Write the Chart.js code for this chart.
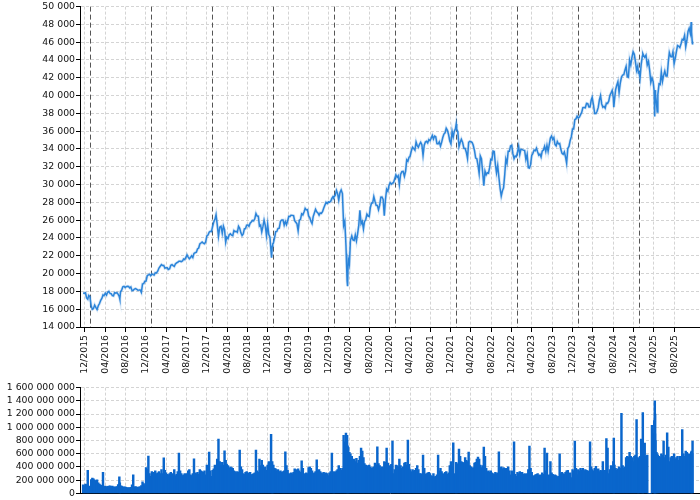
<!DOCTYPE html>
<html>
<head>
<meta charset="utf-8">
<script src="https://cdn.jsdelivr.net/npm/chart.js@4.4.1/dist/chart.umd.min.js"></script>
<style>
  html, body { margin: 0; padding: 0; background: #fff; }
  canvas { display: block; }
</style>
</head>
<body>
<canvas id="price" width="700" height="381"></canvas>
<canvas id="volume" width="700" height="119"></canvas>
<script>
// weekly closes: [month, day, close, volume (millions)]
const d2015 = [[11,20,17823,130],[11,27,17798,120],[12,4,17848,140],[12,11,17265,135],[12,18,17128,350],[12,24,17552,100],[12,31,17425,110]];

const d2016 = [[1,8,16346,210],[1,15,15988,230],[1,22,16093,220],[1,29,16466,200],[2,5,16205,190],[2,12,15973,205],[2,19,16392,160],[2,26,16640,140],
  [3,4,17006,125],[3,11,17213,120],[3,18,17602,318],[3,24,17515,105],[4,1,17792,110],[4,8,17577,100],[4,15,17897,108],[4,22,18003,112],[4,29,17773,115],
  [5,6,17740,105],[5,13,17535,110],[5,20,17500,98],[5,27,17873,95],[6,3,17807,100],[6,10,17865,102],[6,17,17675,135],[6,24,17400,250],[6,27,17140,160],
  [7,1,17949,115],[7,8,18147,110],[7,15,18516,100],[7,22,18570,95],[7,29,18432,98],[8,5,18543,90],[8,12,18576,85],[8,19,18552,88],[8,26,18395,85],
  [9,2,18492,90],[9,9,18085,130],[9,16,18124,280],[9,23,18261,100],[9,30,18308,105],[10,7,18240,95],[10,14,18138,92],[10,21,18145,98],[10,28,18161,100],
  [11,4,17888,120],[11,11,18847,175],[11,18,18868,150],[11,25,19152,120],[12,2,19170,390],[12,9,19757,360],[12,16,19843,565],[12,23,19934,300],[12,30,19763,260]];

const d2017 = [[1,6,19964,330],[1,13,19885,310],[1,20,19827,320],[1,27,20093,340],[2,3,20071,300],[2,10,20269,310],[2,17,20624,330],[2,24,20822,300],
  [3,3,21005,360],[3,10,20903,300],[3,17,20915,537],[3,24,20597,350],[3,31,20663,310],[4,7,20656,290],[4,13,20453,280],[4,21,20548,300],[4,28,20941,320],
  [5,5,21007,300],[5,12,20897,280],[5,19,20804,360],[5,26,21080,270],[6,2,21206,290],[6,9,21272,330],[6,16,21384,610],[6,23,21395,340],[6,30,21350,300],
  [7,7,21414,270],[7,14,21638,280],[7,21,21580,300],[7,28,21830,290],[8,4,22092,300],[8,11,21858,340],[8,18,21675,360],[8,25,21814,280],
  [9,1,21988,270],[9,8,21798,300],[9,15,22268,522],[9,22,22350,310],[9,29,22405,300],[10,6,22773,320],[10,13,22871,290],[10,20,23329,360],[10,27,23434,340],
  [11,3,23539,330],[11,10,23422,320],[11,17,23358,340],[11,24,23558,280],[12,1,24231,430],[12,8,24329,380],[12,15,24651,626],[12,22,24754,340],[12,29,24719,260]];

const d2018 = [[1,5,25296,350],[1,12,25803,370],[1,19,26072,430],[1,26,26617,400],[2,2,25521,520],[2,9,24190,820],[2,16,25219,480],[2,23,25310,420],
  [3,2,24538,470],[3,9,25336,430],[3,16,24946,645],[3,23,23533,500],[3,29,24103,440],[4,6,23933,420],[4,13,24360,380],[4,20,24463,400],[4,27,24311,390],
  [5,4,24263,380],[5,11,24831,340],[5,18,24715,330],[5,25,24753,310],[6,1,24635,330],[6,8,25317,320],[6,15,25090,656],[6,22,24581,400],[6,29,24271,360],
  [7,6,24456,300],[7,13,25019,290],[7,20,25058,320],[7,27,25451,330],[8,3,25463,310],[8,10,25313,300],[8,17,25669,320],[8,24,25790,280],[8,31,25965,290],
  [9,7,25917,300],[9,14,26154,310],[9,21,26743,656],[9,28,26458,340],[10,5,26447,320],[10,12,25340,520],[10,19,25444,420],[10,26,24688,500],
  [11,2,25270,430],[11,9,25989,380],[11,16,25413,400],[11,23,24285,350],[11,30,25538,430],[12,7,24389,480],[12,14,24100,450],[12,21,22445,895],
  [12,24,21792,300],[12,28,23062,480],[12,31,23327,380]];

const d2019 = [[1,4,23433,430],[1,11,23996,380],[1,18,24706,370],[1,25,24737,340],[2,1,25064,360],[2,8,25106,330],[2,15,25883,340],[2,22,26031,320],
  [3,1,26026,330],[3,8,25450,340],[3,15,25849,627],[3,22,25502,420],[3,29,25929,350],[4,5,26425,300],[4,12,26412,290],[4,18,26559,310],[4,26,26543,300],
  [5,3,26505,320],[5,10,25942,370],[5,17,25764,360],[5,24,25586,330],[5,31,24815,370],[6,7,25983,340],[6,14,26090,320],[6,21,26719,492],[6,28,26600,380],
  [7,5,26922,260],[7,12,27332,300],[7,19,27154,310],[7,26,27192,300],[8,2,26485,390],[8,9,26287,400],[8,16,25886,380],[8,23,25628,340],[8,30,26403,300],
  [9,6,26797,310],[9,13,27220,330],[9,20,26935,507],[9,27,26820,340],[10,4,26573,360],[10,11,26817,330],[10,18,26770,310],[10,25,26958,300],
  [11,1,27347,320],[11,8,27681,300],[11,15,28005,310],[11,22,27876,300],[11,29,28051,270],[12,6,28015,310],[12,13,28135,330],[12,20,28455,611],
  [12,27,28645,300],[12,31,28538,290]];

const d2020 = [[1,3,28635,330],[1,10,28824,320],[1,17,29348,340],[1,24,28990,360],[1,31,28256,420],[2,7,29103,380],[2,14,29398,350],[2,21,28992,380],
  [2,28,25409,880],[3,6,25864,780],[3,13,23186,914],[3,20,19174,880],[3,23,18592,720],[3,27,21637,700],[4,3,21053,620],[4,9,23719,600],[4,17,24242,560],
  [4,24,23775,500],[5,1,23724,520],[5,8,24331,480],[5,15,23685,530],[5,22,24465,460],[5,29,25383,500],[6,5,27111,560],[6,12,25606,685],[6,19,25871,640],
  [6,26,25016,540],[7,2,25827,450],[7,10,26075,430],[7,17,26672,420],[7,24,26470,410],[7,31,26428,430],[8,7,27433,400],[8,14,27931,380],[8,21,27930,390],
  [8,28,28654,400],[9,4,28133,460],[9,11,27666,430],[9,18,27657,705],[9,25,27174,450],[10,2,27683,420],[10,9,28587,380],[10,16,28606,400],[10,23,28336,390],
  [10,30,26502,480],[11,6,28323,470],[11,13,29480,685],[11,20,29263,460],[11,27,29910,380],[12,4,30218,420],[12,11,30046,440],[12,18,30179,790],
  [12,24,30200,300],[12,31,30606,360]];

const d2021 = [[1,8,31098,430],[1,15,30814,420],[1,22,30997,400],[1,29,29983,520],[2,5,31148,420],[2,12,31458,380],[2,19,31494,400],[2,26,30932,460],
  [3,5,31496,470],[3,12,32779,430],[3,19,32628,805],[3,26,33073,440],[4,1,33153,360],[4,9,33801,330],[4,16,34200,360],[4,23,34043,340],[4,30,33875,350],
  [5,7,34778,380],[5,14,34382,420],[5,21,34208,360],[5,28,34529,300],[6,4,34756,300],[6,11,34480,290],[6,18,33290,580],[6,25,34433,380],
  [7,2,34786,290],[7,9,34870,300],[7,16,34687,310],[7,23,35062,320],[7,30,34935,300],[8,6,35208,270],[8,13,35515,260],[8,20,35120,300],[8,27,35456,250],
  [9,3,35369,260],[9,10,34607,280],[9,17,34584,580],[9,24,34798,340],[10,1,34326,380],[10,8,34746,330],[10,15,35295,300],[10,22,35677,290],[10,29,35820,320],
  [11,5,36328,330],[11,12,36100,290],[11,19,35602,310],[11,26,34899,420],[12,3,34580,480],[12,10,35971,400],[12,17,35365,765],[12,23,35950,300],[12,31,36338,280]];

const d2022 = [[1,4,36800,470],[1,7,36231,450],[1,14,35912,440],[1,21,34265,670],[1,28,34725,560],[2,4,35089,480],[2,11,34738,470],[2,18,34079,460],
  [2,25,34059,540],[3,4,33615,500],[3,11,32945,480],[3,18,34754,625],[3,25,34861,420],[4,1,34818,400],[4,8,34721,380],[4,14,34451,390],[4,22,33811,460],
  [4,29,32977,470],[5,6,32899,520],[5,13,32197,550],[5,20,31262,520],[5,27,33213,430],[6,3,32900,390],[6,10,31393,420],[6,17,29888,700],[6,24,31500,560],
  [7,1,31097,380],[7,8,31338,330],[7,15,31288,340],[7,22,31899,320],[7,29,32845,340],[8,5,32803,310],[8,12,33761,300],[8,19,33706,290],[8,26,32283,320],
  [9,2,31318,300],[9,9,32151,310],[9,16,30822,630],[9,23,29590,380],[9,30,28725,400],[10,7,29297,370],[10,14,29634,390],[10,21,31083,380],[10,28,32861,370],
  [11,4,32403,380],[11,11,33748,400],[11,18,33746,340],[11,25,34347,280],[12,2,34430,340],[12,9,33476,320],[12,16,32920,780],[12,23,33204,290],[12,30,33147,260]];

const d2023 = [[1,6,33631,320],[1,13,34303,300],[1,20,33376,330],[1,27,33978,300],[2,3,33926,320],[2,10,33869,290],[2,17,33827,300],[2,24,32817,290],
  [3,3,33391,300],[3,10,31910,360],[3,17,31862,715],[3,24,32238,380],[3,31,33274,320],[4,6,33485,270],[4,14,33887,260],[4,21,33809,280],[4,28,34098,290],
  [5,5,33674,300],[5,12,33301,270],[5,19,33427,280],[5,26,33093,270],[6,2,33763,310],[6,9,33877,290],[6,16,34300,685],[6,23,33727,340],[6,30,34408,610],
  [7,7,33735,270],[7,14,34509,280],[7,21,35228,480],[7,28,35459,310],[8,4,35066,290],[8,11,35281,270],[8,18,34501,280],[8,25,34347,270],
  [9,1,34838,250],[9,8,34577,260],[9,15,34619,600],[9,22,33964,300],[9,29,33508,320],[10,6,33407,300],[10,13,33670,290],[10,20,33127,320],[10,27,32418,340],
  [11,3,34061,350],[11,10,34283,300],[11,17,34947,310],[11,24,35390,240],[12,1,36246,360],[12,8,36248,340],[12,15,37306,790],[12,22,37385,380],[12,29,37690,280]];

const d2024 = [[1,5,37466,360],[1,12,37593,340],[1,19,37863,380],[1,26,38109,350],[2,2,38654,380],[2,9,38671,340],[2,16,38628,360],[2,23,39131,350],
  [3,1,39087,340],[3,8,38723,330],[3,15,38715,780],[3,22,39475,400],[3,28,39807,360],[4,5,38904,340],[4,12,37983,380],[4,19,37986,410],[4,26,38240,360],
  [5,3,38676,370],[5,10,39513,330],[5,17,40004,350],[5,24,39070,340],[5,31,38686,480],[6,7,38799,340],[6,14,38589,350],[6,21,39150,830],[6,28,39119,685],
  [7,5,39376,300],[7,12,40001,360],[7,19,40288,420],[7,26,40589,410],[8,2,39737,480],[8,5,38703,835],[8,9,39497,430],[8,16,40660,380],[8,23,41175,350],
  [8,30,41563,370],[9,6,40345,400],[9,13,41394,380],[9,20,42063,1212],[9,27,42313,420],[10,4,42352,380],[10,11,42864,400],[10,18,43275,540],[10,25,42114,560],
  [11,1,42052,550],[11,8,43989,620],[11,15,43445,560],[11,22,44297,540],[11,29,44911,480],[12,6,44643,560],[12,13,43828,580],[12,20,42840,1118],
  [12,27,43326,540],[12,31,42544,500]];

const d2025 = [[1,3,42732,520],[1,10,41938,560],[1,17,43488,820],[1,24,44424,560],[1,27,44714,1222],[1,31,44545,600],[2,7,44303,760],[2,14,44546,560],
  [2,21,43428,580],[2,28,43841,0],[3,7,42802,0],[3,14,41488,0],[3,21,41985,1030],[3,28,41583,620],[4,3,40545,900],[4,4,38315,1100],[4,7,37966,1400],
  [4,8,37645,900],[4,9,40608,1200],[4,11,40213,800],[4,17,39142,620],[4,21,38170,600],[4,25,40114,580],[5,2,41317,560],[5,9,41249,540],[5,16,42655,600],
  [5,23,41603,580],[5,30,42270,790],[6,6,42763,540],[6,13,42197,580],[6,20,42207,915],[6,27,43819,700],[7,3,44828,480],[7,11,44371,540],[7,18,44342,560],
  [7,25,44902,520],[8,1,43589,600],[8,8,44176,520],[8,15,44946,540],[8,22,45631,560],[8,29,45545,500],[9,5,45401,560],[9,12,45834,540],[9,19,46315,965],
  [9,26,46247,600],[10,3,46758,560],[10,10,45480,640],[10,17,46191,620],[10,24,47207,580],[10,31,47563,600],[11,7,46987,560],[11,12,48254,620],
  [11,14,47147,640],[11,18,46091,600],[11,20,45752,790]];

const yearRows = [[2015, d2015], [2016, d2016], [2017, d2017], [2018, d2018], [2019, d2019], [2020, d2020],
  [2021, d2021], [2022, d2022], [2023, d2023], [2024, d2024], [2025, d2025]];

// x axis: months counted from 12/2015
const monthTicks = [0, 4, 8, 12, 16, 20, 24, 28, 32, 36, 40, 44, 48, 52, 56, 60, 64, 68, 72, 76, 80, 84, 88, 92, 96, 100, 104, 108, 112, 116];
const priceTicks = [14000, 16000, 18000, 20000, 22000, 24000, 26000, 28000, 30000, 32000, 34000, 36000, 38000, 40000, 42000, 44000, 46000, 48000, 50000];
const volumeTicks = [0, 200000000, 400000000, 600000000, 800000000, 1000000000, 1200000000, 1400000000, 1600000000];
const yearStarts = [2016, 2017, 2018, 2019, 2020, 2021, 2022, 2023, 2024, 2025];

const X_MIN = -0.98, X_MAX = 121.1;

function monthPos(y, m, d) {
  return (y - 2015) * 12 + (m - 12) + (d - 1) / new Date(y, m, 0).getDate();
}

const pricePts = [];
const volumePts = [];
yearRows.forEach(([y, rows]) => {
  rows.forEach(r => {
    const x = monthPos(y, r[0], r[1]);
    pricePts.push({ x: x, y: r[2] });
    volumePts.push({ x: x, y: r[3] * 1e6 });
  });
});

const spaced = v => String(v).replace(/\B(?=(\d{3})+(?!\d))/g, ' ');
const monthLabel = v => {
  const k = 11 + v;
  return String(k % 12 + 1).padStart(2, '0') + '/' + (2015 + Math.floor(k / 12));
};

const font = { family: 'DejaVu Sans', size: 9.33 };
const gridCol = '#d4d4d4';

// dark dashed lines on 1 January
const yearLines = {
  id: 'yearLines',
  beforeDatasetsDraw(chart) {
    const { ctx, chartArea, scales } = chart;
    ctx.save();
    ctx.strokeStyle = '#555';
    ctx.lineWidth = 1;
    ctx.setLineDash([5, 3]);
    yearStarts.forEach(y => {
      const px = Math.round(scales.x.getPixelForValue(monthPos(y, 1, 1))) + 0.5;
      ctx.beginPath();
      ctx.moveTo(px, chartArea.top);
      ctx.lineTo(px, chartArea.bottom);
      ctx.stroke();
    });
    ctx.restore();
  }
};

new Chart(document.getElementById('price'), {
  type: 'line',
  data: {
    datasets: [{
      data: pricePts,
      borderColor: '#2b84d9',
      borderWidth: 1.5,
      pointRadius: 0,
      tension: 0,
      fill: false
    }, {
      // soft halo under the line
      data: pricePts,
      borderColor: 'rgba(43, 132, 217, 0.2)',
      borderWidth: 3,
      pointRadius: 0,
      tension: 0,
      fill: false
    }]
  },
  options: {
    responsive: false,
    animation: false,
    events: [],
    plugins: { legend: { display: false }, tooltip: { enabled: false } },
    scales: {
      x: {
        type: 'linear',
        min: X_MIN,
        max: X_MAX,
        afterBuildTicks: s => { s.ticks = monthTicks.map(v => ({ value: v })); },
        afterFit: s => { s.height = 54; },
        ticks: { autoSkip: false, minRotation: 90, maxRotation: 90, padding: 3, color: '#111', font: font, callback: v => monthLabel(v) },
        grid: { color: gridCol, tickColor: '#000', tickLength: 5, tickBorderDash: [] },
        border: { color: '#000', dash: [3, 2] }
      },
      y: {
        min: 14000,
        max: 50000,
        afterBuildTicks: s => { s.ticks = priceTicks.map(v => ({ value: v })); },
        afterFit: s => { s.width = 80; },
        ticks: { autoSkip: false, padding: 1, color: '#111', font: font, callback: v => spaced(v) },
        grid: { color: gridCol, tickColor: '#000', tickLength: 4, tickBorderDash: [] },
        border: { color: '#000', dash: [3, 2] }
      }
    }
  },
  plugins: [yearLines]
});

new Chart(document.getElementById('volume'), {
  type: 'bar',
  data: {
    datasets: [{
      data: volumePts,
      backgroundColor: '#0a66cc',
      borderWidth: 0,
      barThickness: 1.8
    }]
  },
  options: {
    responsive: false,
    animation: false,
    events: [],
    plugins: { legend: { display: false }, tooltip: { enabled: false } },
    scales: {
      x: {
        type: 'linear',
        min: X_MIN,
        max: X_MAX,
        offset: false,
        afterBuildTicks: s => { s.ticks = monthTicks.map(v => ({ value: v })); },
        ticks: { display: false },
        grid: { color: gridCol, drawTicks: false, offset: false },
        border: { color: '#000', dash: [3, 2] }
      },
      y: {
        min: 0,
        max: 1600000000,
        afterBuildTicks: s => { s.ticks = volumeTicks.map(v => ({ value: v })); },
        afterFit: s => { s.width = 80; },
        ticks: { autoSkip: false, padding: 1, color: '#111', font: font, callback: v => spaced(v) },
        grid: { color: gridCol, tickColor: '#000', tickLength: 4, tickBorderDash: [] },
        border: { color: '#000', dash: [3, 2] }
      }
    }
  }
});
</script>
</body>
</html>
